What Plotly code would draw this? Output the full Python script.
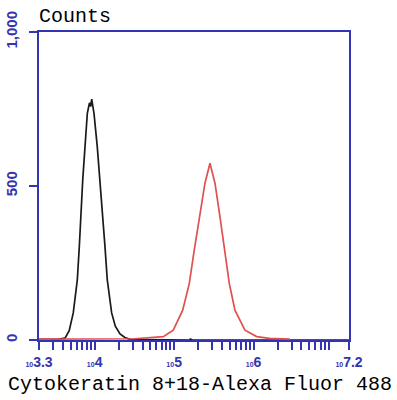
import plotly.graph_objects as go

# ---- data ----
black_intensity = [1995, 3548, 4236, 4786, 5383, 6053, 6412, 6683, 7079, 7568, 8091, 8610, 8913,
                   9183, 9817, 10789, 11668, 12618, 13490, 14421, 16368, 18197, 20845, 23988,
                   27861, 39811, 100000, 158000, 160000, 170000, 15800000]
black_counts = [2, 3, 6, 30, 88, 195, 303, 411, 519, 628, 736, 770, 758,
                782, 736, 628, 519, 411, 303, 195, 88, 45, 20, 8,
                2, 1, 0, 0, 3, 0, 0]

red_intensity = [1995, 10000, 31623, 73114, 97499, 128233, 155239, 179061, 207014, 244343,
                 282488, 326588, 377572, 436516, 494311, 582103, 778037, 1091440, 1584893,
                 2864178]
red_counts = [3, 4, 4, 11, 32, 97, 184, 292, 400, 509,
              574, 509, 400, 292, 184, 97, 32, 11, 5, 3]

x_label_vals = [10**3.3, 1e4, 1e5, 1e6, 10**7.2]
x_label_exps = ["3.3", "4", "5", "6", "7.2"]
y_tick_vals = [0, 500, 1000]
y_tick_text = ["0", "500", "1,000"]

x_title = "Cytokeratin 8+18-Alexa Fluor 488"
y_title = "Counts"

BLUE = "#3434b0"

# tick positions: decade labels plus minor ticks between
tickvals = []
ticktext = []
for v, e in zip(x_label_vals, x_label_exps):
    tickvals.append(v)
    ticktext.append("<span style='font-size:7px'><b>10</b></span><b>" + e + "</b>")
for dec in [1e3, 1e4, 1e5, 1e6, 1e7]:
    for m in range(2, 10):
        val = m * dec
        if 10**3.3 < val < 10**7.2 and val not in tickvals:
            tickvals.append(val)
            ticktext.append("")

fig = go.Figure()
fig.add_trace(go.Scatter(x=black_intensity, y=black_counts, mode="lines",
                         line=dict(color="#1a1a1a", width=1.7), showlegend=False))
fig.add_trace(go.Scatter(x=red_intensity, y=red_counts, mode="lines",
                         line=dict(color="#e0504e", width=1.7), showlegend=False))

fig.update_layout(
    width=397, height=400,
    margin=dict(l=39, r=48, t=32, b=60),
    paper_bgcolor="white", plot_bgcolor="white",
    font=dict(family="Liberation Sans", color=BLUE),
    xaxis=dict(type="log", range=[3.3, 7.2], tickvals=tickvals, ticktext=ticktext,
               automargin=False,
               showgrid=False, zeroline=False, showline=True, mirror=True,
               linecolor=BLUE, linewidth=2, ticks="outside", ticklen=8,
               tickwidth=1.5, tickcolor=BLUE,
               tickfont=dict(family="Liberation Sans", size=14, color=BLUE)),
    yaxis=dict(range=[0, 1000], tickvals=y_tick_vals,
               ticktext=["<b>" + t + "</b>" for t in y_tick_text],
               automargin=False,
               showgrid=False, zeroline=False, showline=True, mirror=True,
               linecolor=BLUE, linewidth=2, ticks="outside", ticklen=8,
               tickwidth=1.5, tickcolor=BLUE, tickangle=-90, ticklabelstandoff=6,
               tickfont=dict(family="Liberation Sans", size=15, color=BLUE)),
)

fig.add_annotation(text=x_title, xref="paper", yref="paper", x=0.518, y=-0.146,
                   xanchor="center", yanchor="middle", showarrow=False,
                   font=dict(family="Liberation Mono", size=20, color="#000000"))
fig.add_annotation(text=y_title, xref="paper", yref="paper", x=-0.0065, y=1.049,
                   xanchor="left", yanchor="middle", showarrow=False,
                   font=dict(family="Liberation Mono", size=20, color="#000000"))

fig.write_html("out.html")
